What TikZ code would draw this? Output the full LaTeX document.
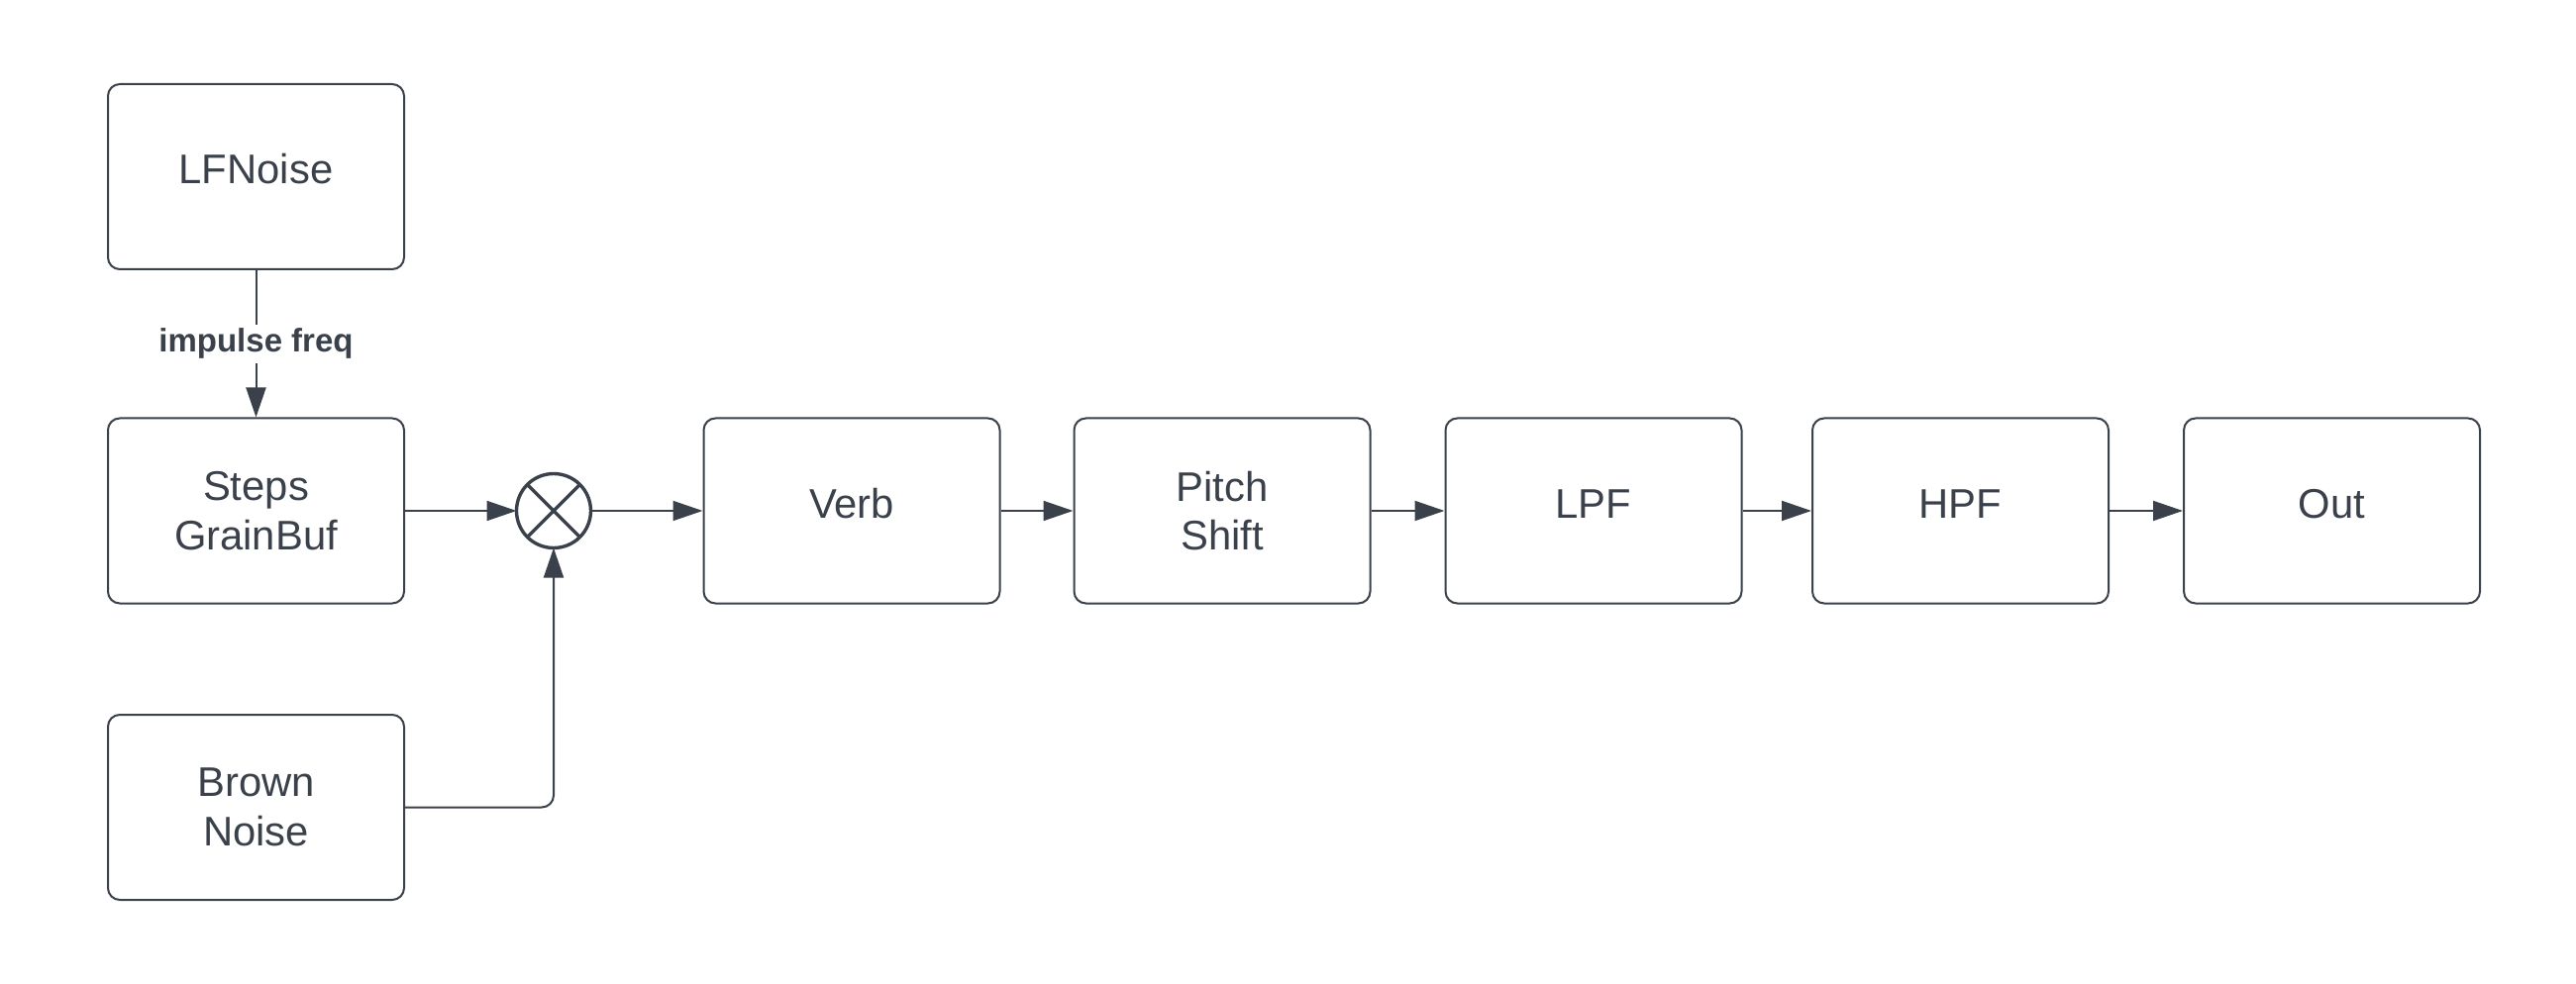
\documentclass[tikz,border=0pt]{standalone}
\usepackage{fontspec}
\setmainfont{Liberation Sans}
\usetikzlibrary{arrows.meta}
\definecolor{ink}{RGB}{58,65,74}
\begin{document}
\begin{tikzpicture}[x=0.5pt,y=-0.5pt,
  blk/.style={draw=ink,line width=1pt,rounded corners=6pt,minimum width=149.5pt,minimum height=93.5pt,inner sep=0pt,text=ink,font=\fontsize{20.9}{24.8}\selectfont,align=center},
  one/.style={text height=15pt,text depth=7.6pt},
  conn/.style={draw=ink,line width=1pt,-{Triangle[length=15pt,width=10pt]}},
  lbl/.style={fill=white,text=ink,font=\bfseries\fontsize{16.5}{18}\selectfont,inner sep=2pt},
]
\useasboundingbox (0,0) rectangle (2601,994);
\node[blk,one] (lf) at (258.5,178.5) {LFNoise};
\node[blk] (steps) at (258.5,516) {Steps\\GrainBuf};
\node[blk] (brown) at (258.5,815.5) {Brown\\Noise};
\node[circle,draw=ink,line width=1.7pt,minimum size=37.5pt,inner sep=0pt,outer sep=0pt] (mult) at (559,516) {};
\draw[ink,line width=1.7pt] (mult.north west) -- (mult.south east) (mult.north east) -- (mult.south west);
\node[blk,one] (verb) at (860,516) {Verb};
\node[blk] (pitch) at (1234,516) {Pitch\\Shift};
\node[blk,one] (lpf) at (1609,516) {LPF};
\node[blk,one] (hpf) at (1979.5,516) {HPF};
\node[blk,one] (out) at (2354.5,516) {Out};
\draw[conn] (lf) -- node[lbl] {impulse freq} (steps);
\draw[conn] (steps) -- (mult);
\draw[conn] (mult) -- (verb);
\draw[conn] (verb) -- (pitch);
\draw[conn] (pitch) -- (lpf);
\draw[conn] (lpf) -- (hpf);
\draw[conn] (hpf) -- (out);
\draw[conn,rounded corners=6pt] (brown.east) -| (mult.south);
\end{tikzpicture}
\end{document}
